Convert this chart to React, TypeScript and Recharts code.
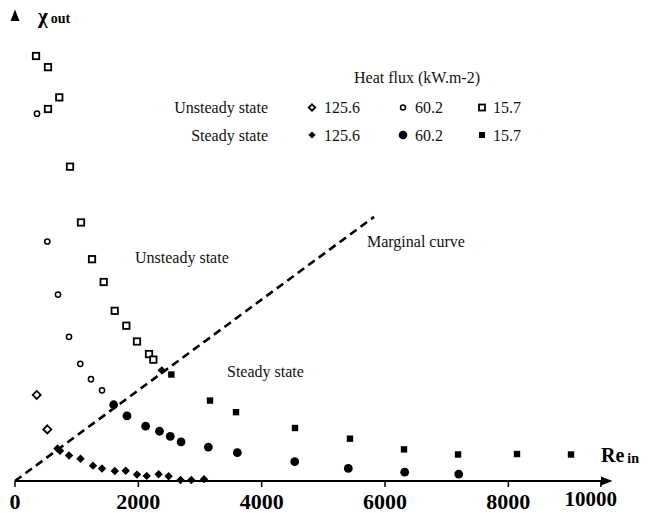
import React from 'react';
import { ScatterChart, Scatter, XAxis, YAxis, ReferenceLine, ReferenceDot, Legend } from 'recharts';

// ---- data (x = Re_in, y = chi_out) ----
const unsteady1256 = [
  { x: 352, y: 0.185 }, { x: 524, y: 0.111 },
];
const unsteady602 = [
  { x: 357, y: 0.790 }, { x: 524, y: 0.515 }, { x: 697, y: 0.401 }, { x: 876, y: 0.310 },
  { x: 1059, y: 0.252 }, { x: 1232, y: 0.219 }, { x: 1411, y: 0.195 },
];
const unsteady157 = [
  { x: 341, y: 0.914 }, { x: 535, y: 0.890 }, { x: 718, y: 0.825 }, { x: 535, y: 0.800 },
  { x: 892, y: 0.676 }, { x: 1070, y: 0.556 }, { x: 1249, y: 0.477 }, { x: 1438, y: 0.428 },
  { x: 1617, y: 0.366 }, { x: 1805, y: 0.334 }, { x: 1978, y: 0.300 }, { x: 2173, y: 0.273 },
  { x: 2243, y: 0.261 },
];
const steady1256 = [
  { x: 689, y: 0.070 }, { x: 730, y: 0.065 }, { x: 876, y: 0.055 }, { x: 1062, y: 0.048 },
  { x: 1265, y: 0.033 }, { x: 1411, y: 0.027 }, { x: 1618, y: 0.0215 }, { x: 1795, y: 0.022 },
  { x: 1978, y: 0.0138 }, { x: 2136, y: 0.011 }, { x: 2329, y: 0.0144 }, { x: 2491, y: 0.0103 },
  { x: 2684, y: 0.002 }, { x: 2859, y: 0.002 }, { x: 3065, y: 0.004 }, { x: 2379, y: 0.238 },
];
const steady602 = [
  { x: 1600, y: 0.164 }, { x: 1816, y: 0.140 }, { x: 2118, y: 0.118 }, { x: 2343, y: 0.107 },
  { x: 2518, y: 0.096 }, { x: 2693, y: 0.084 }, { x: 3135, y: 0.073 }, { x: 3605, y: 0.061 },
  { x: 4536, y: 0.0415 }, { x: 5405, y: 0.027 }, { x: 6319, y: 0.019 }, { x: 7195, y: 0.015 },
];
const steady157 = [
  { x: 2535, y: 0.229 }, { x: 3162, y: 0.173 }, { x: 3584, y: 0.148 }, { x: 4540, y: 0.114 },
  { x: 5432, y: 0.091 }, { x: 6308, y: 0.068 }, { x: 7184, y: 0.057 }, { x: 8140, y: 0.058 },
  { x: 9016, y: 0.057 },
];
const marginalCurve = [{ x: 0, y: 0 }, { x: 5822, y: 0.568 }];

const X_MAX = 9567;
const Y_MAX = 1;
const X_TICKS = [0, 2000, 4000, 6000, 8000, 9500];
const X_TICK_LABELS = ['0', '2000', '4000', '6000', '8000', '10000'];

const LEGEND_TITLE = 'Heat flux (kW.m-2)';
const FLUX_LABELS = ['125.6', '60.2', '15.7'];
const STATE_LABELS = ['Unsteady state', 'Steady state'];

const ANNOTATIONS = [
  { text: 'Unsteady state', x: 1946, y: 0.469 },
  { text: 'Steady state', x: 3438, y: 0.224 },
  { text: 'Marginal curve', x: 5708, y: 0.503 },
];

const FONT = '"Liberation Serif", "Times New Roman", serif';

// ---- marker drawing ----
type Kind = 'odiamond' | 'ocircle' | 'osquare' | 'fdiamond' | 'fcircle' | 'fsquare';

function marker(kind: Kind, cx: number, cy: number, s: number, key?: any) {
  switch (kind) {
    case 'odiamond':
      return <polygon key={key} points={`${cx},${cy - s} ${cx + s},${cy} ${cx},${cy + s} ${cx - s},${cy}`} fill="#fff" stroke="#000" strokeWidth={1.8} />;
    case 'ocircle':
      return <circle key={key} cx={cx} cy={cy} r={s} fill="#fff" stroke="#000" strokeWidth={1.5} />;
    case 'osquare':
      return <rect key={key} x={cx - s} y={cy - s} width={2 * s} height={2 * s} fill="#fff" stroke="#000" strokeWidth={1.8} />;
    case 'fdiamond':
      return <polygon key={key} points={`${cx},${cy - s} ${cx + s},${cy} ${cx},${cy + s} ${cx - s},${cy}`} fill="#000" />;
    case 'fcircle':
      return <circle key={key} cx={cx} cy={cy} r={s} fill="#000" />;
    case 'fsquare':
      return <rect key={key} x={cx - s} y={cy - s} width={2 * s} height={2 * s} fill="#000" />;
  }
  return null;
}

const shapeOf = (kind: Kind, s: number) => (p: any) => <g>{marker(kind, p.cx, p.cy, s)}</g>;

const XTick = (props: any) => {
  const { x, y, payload } = props;
  const i = X_TICKS.indexOf(payload.value);
  const label = X_TICK_LABELS[i] ?? String(payload.value);
  const last = i === X_TICKS.length - 1;
  return (
    <text x={x + (last ? -10 : 0)} y={y} dy={last ? 19 : 22} textAnchor="middle"
      fontFamily={FONT} fontWeight="bold" fontSize={last ? 21 : 22} fill="#000">
      {label}
    </text>
  );
};

const LegendBox = () => {
  const rowY = [107.5, 135];
  const markerX = [312, 403, 482];
  const textX = [324, 415, 493];
  const kinds: Kind[][] = [['odiamond', 'ocircle', 'osquare'], ['fdiamond', 'fcircle', 'fsquare']];
  const sizes = [[3.2, 2.5, 3], [3.6, 4.3, 3]];
  return (
    <svg width={648} height={160} style={{ display: 'block', pointerEvents: 'none' }}>
      <text x={417} y={83} textAnchor="middle" fontFamily={FONT} fontSize={16} fill="#111">{LEGEND_TITLE}</text>
      {STATE_LABELS.map((st, r) => (
        <g key={st}>
          <text x={268} y={rowY[r] + 5.5} textAnchor="end" fontFamily={FONT} fontSize={16} fill="#111">{st}</text>
          {FLUX_LABELS.map((f, c) => (
            <g key={f}>
              {marker(kinds[r][c], markerX[c], rowY[r], sizes[r][c])}
              <text x={textX[c]} y={rowY[r] + 5.5} fontFamily={FONT} fontSize={16} fill="#111">{f}</text>
            </g>
          ))}
        </g>
      ))}
    </svg>
  );
};

export default function App() {
  return (
    <div style={{ position: 'absolute', left: 0, top: 0, background: '#fff' }}>
      <ScatterChart width={648} height={513} margin={{ top: 16, right: 43, bottom: 0, left: 15 }}>
        <XAxis type="number" dataKey="x" domain={[0, X_MAX]} ticks={X_TICKS} tick={<XTick />}
          tickSize={6} tickMargin={0} height={32} interval={0}
          axisLine={{ stroke: '#000', strokeWidth: 2 }} tickLine={{ stroke: '#000', strokeWidth: 1.5 }} />
        <YAxis type="number" dataKey="y" domain={[0, Y_MAX]} width={0} tick={false} tickLine={false}
          axisLine={{ stroke: '#000', strokeWidth: 2 }} />
        <Legend content={<LegendBox />} layout="horizontal" verticalAlign="middle" align="center"
          wrapperStyle={{ position: 'absolute', left: 0, top: 0, width: 648, height: 160 }} />
        <ReferenceLine segment={marginalCurve} stroke="#000" strokeWidth={2.6} strokeDasharray="8 5" ifOverflow="visible" />
        <Scatter name="Unsteady 125.6" data={unsteady1256} shape={shapeOf('odiamond', 4)} isAnimationActive={false} />
        <Scatter name="Unsteady 60.2" data={unsteady602} shape={shapeOf('ocircle', 2.6)} isAnimationActive={false} />
        <Scatter name="Unsteady 15.7" data={unsteady157} shape={shapeOf('osquare', 3.2)} isAnimationActive={false} />
        <Scatter name="Steady 125.6" data={steady1256} shape={shapeOf('fdiamond', 4.2)} isAnimationActive={false} />
        <Scatter name="Steady 60.2" data={steady602} shape={shapeOf('fcircle', 4.4)} isAnimationActive={false} />
        <Scatter name="Steady 15.7" data={steady157} shape={shapeOf('fsquare', 3.2)} isAnimationActive={false} />
        {ANNOTATIONS.map((a) => (
          <ReferenceDot key={a.text} x={a.x} y={a.y} ifOverflow="visible"
            shape={(p: any) => (
              <text x={p.cx} y={p.cy} fontFamily={FONT} fontSize={16} fill="#111">{a.text}</text>
            )} />
        ))}
        <ReferenceDot x={X_MAX} y={0} ifOverflow="visible"
          shape={(p: any) => (
            <g>
              <polygon points={`${p.cx + 7.5},${p.cy} ${p.cx - 4},${p.cy - 4.5} ${p.cx - 4},${p.cy + 4.5}`} fill="#000" />
              <text x={p.cx - 4} y={p.cy - 19} fontFamily={FONT} fontWeight="bold" fill="#000">
                <tspan fontSize={20}>Re</tspan>
                <tspan fontSize={14} dx={3} dy={1}>in</tspan>
              </text>
            </g>
          )} />
        <ReferenceDot x={0} y={Y_MAX} ifOverflow="visible"
          shape={(p: any) => (
            <g>
              <polygon points={`${p.cx},${p.cy - 6.5} ${p.cx - 4.5},${p.cy + 5} ${p.cx + 4.5},${p.cy + 5}`} fill="#000" />
              <text x={p.cx + 23} y={p.cy + 7} fontFamily={FONT} fontWeight="bold" fill="#000">
                <tspan fontSize={21}>χ</tspan>
                <tspan fontSize={14} dx={3}>out</tspan>
              </text>
            </g>
          )} />
      </ScatterChart>
    </div>
  );
}
